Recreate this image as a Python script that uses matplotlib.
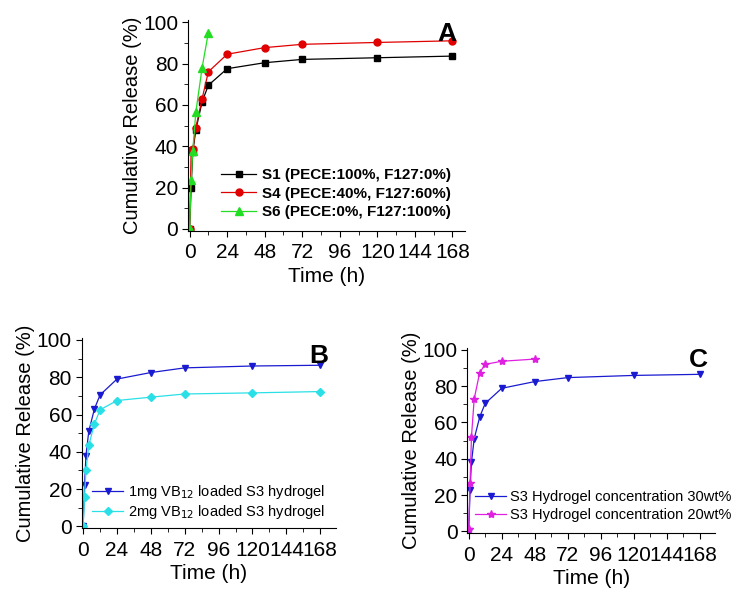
import matplotlib
matplotlib.use("Agg")
import matplotlib.pyplot as plt
from matplotlib.ticker import MultipleLocator

plt.rcParams['font.family'] = ['Liberation Sans', 'DejaVu Sans']

# panel A: release of blended hydrogels
time_a = [0, 1, 2, 4, 8, 12, 24, 48, 72, 120, 168]
s1 = [0, 20, 37, 48, 61.5, 69.5, 77.5, 80.4, 82, 82.8, 83.6]
s4 = [0, 38, 38.5, 49, 63, 76, 84.5, 87.7, 89.3, 90.2, 91]
time_s6 = [0, 1, 2, 4, 8, 12]
s6 = [0, 23.5, 37.5, 56.5, 78, 95]

# panel B: drug loading
time_b = [0, 1, 2, 4, 8, 12, 24, 48, 72, 120, 168]
vb_1mg = [0, 22, 38, 51, 63, 70.5, 79, 82.5, 85, 86, 86.4]
vb_2mg = [0, 16, 30, 43.5, 55, 62.5, 67.5, 69.3, 71, 71.6, 72.3]

# panel C: hydrogel concentration
time_c30 = [0, 1, 2, 4, 8, 12, 24, 48, 72, 120, 168]
conc_30 = [0, 23, 38, 51, 63, 70.5, 78.8, 82.5, 84.7, 85.9, 86.5]
time_c20 = [0, 1, 2, 4, 8, 12, 24, 48]
conc_20 = [1, 26.5, 52, 73, 87.5, 92, 93.7, 94.9]

xticks = [0, 24, 48, 72, 96, 120, 144, 168]
yticks = [0, 20, 40, 60, 80, 100]

fig = plt.figure(figsize=(7.47, 5.99), dpi=100)
axA = fig.add_axes([0.2517, 0.6144, 0.3708, 0.352])
axB = fig.add_axes([0.1094, 0.118, 0.340, 0.3177])
axC = fig.add_axes([0.6256, 0.110, 0.3316, 0.309])


def style(ax, xmax):
    ax.set_xlim(-1, xmax)
    ax.set_ylim(-1, 101)
    ax.set_xticks(xticks)
    ax.set_yticks(yticks)
    ax.xaxis.set_minor_locator(MultipleLocator(12))
    ax.yaxis.set_minor_locator(MultipleLocator(10))
    ax.spines['top'].set_visible(False)
    ax.spines['right'].set_visible(False)
    ax.tick_params(which='both', direction='out', labelsize=15)
    ax.tick_params(axis='x', pad=5)
    ax.tick_params(axis='y', pad=3)
    ax.tick_params(which='major', length=4)
    ax.tick_params(which='minor', length=3)
    ax.set_xlabel("Time (h)", fontsize=15, labelpad=3)
    ax.set_ylabel("Cumulative Release (%)", fontsize=14.5, labelpad=1)


ms = 4.5
axA.plot(time_a, s1, '-s', color='black', ms=ms, lw=0.9, label="S1 (PECE:100%, F127:0%)")
axA.plot(time_a, s4, '-o', color='#e00000', ms=ms + 0.5, lw=0.9, label="S4 (PECE:40%, F127:60%)")
axA.plot(time_s6, s6, '-^', color='#22dd22', ms=ms + 1, lw=0.9, label="S6 (PECE:0%, F127:100%)")
style(axA, 176)
axA.legend(loc='lower right', bbox_to_anchor=(1.0, -0.01), frameon=False,
           prop={'weight': 'bold', 'size': 11}, handlelength=2.3,
           labelspacing=0.3, handletextpad=0.4)
axA.text(0.97, 0.99, "A", transform=axA.transAxes, ha='right', va='top',
         fontsize=19, fontweight='bold')

axB.plot(time_b, vb_1mg, '-v', color='#1a1ad0', ms=ms + 0.5, lw=0.9,
         label="1mg VB$_{12}$ loaded S3 hydrogel")
axB.plot(time_b, vb_2mg, '-D', color='#2ae0e6', ms=ms - 0.5, lw=0.9,
         label="2mg VB$_{12}$ loaded S3 hydrogel")
style(axB, 179)
axB.legend(loc='lower left', bbox_to_anchor=(-0.01, -0.03), frameon=False,
           fontsize=10.5, handlelength=2.1, labelspacing=0.15, handletextpad=0.35)
axB.text(0.97, 0.97, "B", transform=axB.transAxes, ha='right', va='top',
         fontsize=19, fontweight='bold')

axC.plot(time_c30, conc_30, '-v', color='#1a1ad0', ms=ms + 0.5, lw=0.9,
         label="S3 Hydrogel concentration 30wt%")
axC.plot(time_c20, conc_20, '-*', color='#e020e0', ms=ms + 1.5, lw=0.9,
         label="S3 Hydrogel concentration 20wt%")
style(axC, 179)
axC.legend(loc='lower left', bbox_to_anchor=(-0.02, -0.01), frameon=False,
           fontsize=10.5, handlelength=2.1, labelspacing=0.25, handletextpad=0.3)
axC.text(0.97, 1.0, "C", transform=axC.transAxes, ha='right', va='top',
         fontsize=19, fontweight='bold')

fig.savefig("out.png", dpi=100)
